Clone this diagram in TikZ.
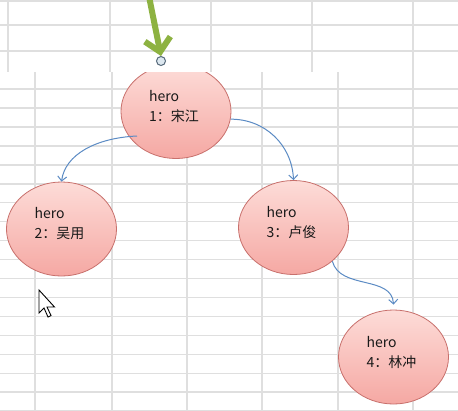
\documentclass[tikz,border=0pt]{standalone}
\usepackage{fontspec}
\newfontfamily\cjk{Noto Sans CJK SC}
\usetikzlibrary{shapes.geometric,arrows.meta,calc}
\definecolor{gridc}{HTML}{DFDFDF}
\definecolor{pinktop}{HTML}{FDDCD8}
\definecolor{pinkbot}{HTML}{F5A8A3}
\definecolor{pinkline}{HTML}{C8706C}
\definecolor{edgeblue}{HTML}{5B8BC4}
\definecolor{arrowgreen}{HTML}{8DB241}
\definecolor{knobfill}{HTML}{DCE7EF}
\definecolor{knobline}{HTML}{56697A}
\begin{document}
\begin{tikzpicture}[x=1pt,y=-1pt,
  gridline/.style={draw=gridc,line width=1.5pt},
  hero/.style={ellipse,minimum width=110pt,minimum height=94pt,inner sep=0pt,
    top color=pinktop,bottom color=pinkbot,draw=pinkline,line width=0.8pt},
  herotext/.style={align=left,font=\cjk\fontsize{14}{20}\selectfont,text=black!90,
    xshift=-2pt,yshift=5pt},
  link/.style={draw=edgeblue,line width=1pt,-{Straight Barb[length=4.5pt,width=9pt]}},
  knobstyle/.style={circle,minimum size=9pt,inner sep=0pt,fill=knobfill,draw=knobline,line width=1pt},
  greenarrow/.style={draw=arrowgreen,line width=6pt,-{Straight Barb[length=13pt,width=26pt]}},
]
\useasboundingbox (0,0) rectangle (458,410);
\fill[white] (0,0) rectangle (458,410);
% lower pane grid
\foreach \x in {35,112,187,262,338,413} \draw[gridline] (\x,72) -- (\x,410);
\foreach \k in {0,...,17} \draw[gridline] (0,{89+18.95*\k}) -- (458,{89+18.95*\k});
% hero nodes
\node[hero,label={[herotext]center:{hero\\1：宋江}}] (n1) at (176,111.5) {};
\node[hero,label={[herotext]center:{hero\\2：吴用}}] (n2) at (61.5,229) {};
\node[hero,label={[herotext]center:{hero\\3：卢俊}}] (n3) at (293.5,227.5) {};
\node[hero,label={[herotext]center:{hero\\4：林冲}}] (n4) at (393.5,357) {};
% connectors
\coordinate (s12) at ($(n1.center)+(-39,24.5)$);
\draw[link] (s12) .. controls (95,138) and (65,155) .. (n2.north);
\draw[link] (n1.-8) .. controls (265,119) and (292,145) .. (n3.north);
\draw[link] (n3.-41) .. controls (340,290) and (392,275) .. ([yshift=5pt]n4.north);
% upper pane
\fill[white] (0,0) rectangle (458,72);
\foreach \x in {8,110,211,312,413} \draw[gridline] (\x,0) -- (\x,72);
\foreach \y in {1,25,51} \draw[gridline] (0,\y) -- (458,\y);
\node[knobstyle] (knob) at (161,61) {};
\coordinate (gstart) at (148.5,-6);
\draw[greenarrow] (gstart) -- (knob.north);
% mouse pointer
\draw[black,fill=white,line width=0.9pt,line join=miter]
  (39,290) -- ++(0,23) -- ++(5,-5) -- ++(4,9) -- ++(3,-1.5) -- ++(-4,-8.5) -- ++(7.5,0) -- cycle;
\end{tikzpicture}
\end{document}
